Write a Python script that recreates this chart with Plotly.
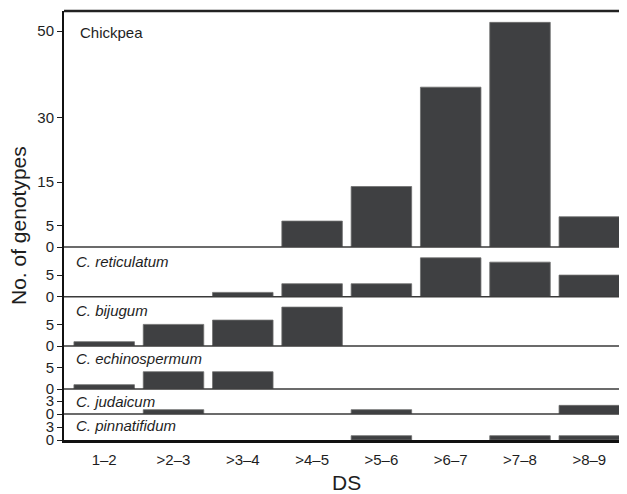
import plotly.graph_objects as go

categories = ["1–2", ">2–3", ">3–4", ">4–5", ">5–6", ">6–7", ">7–8", ">8–9"]
panel_names = ["Chickpea", "C. reticulatum", "C. bijugum", "C. echinospermum", "C. judaicum", "C. pinnatifidum"]
chickpea = [0, 0, 0, 6, 14, 37, 52, 7]
reticulatum = [0, 0, 1, 3, 3, 9, 8, 5]
bijugum = [1, 5, 6, 9, 0, 0, 0, 0]
echinospermum = [1, 4, 4, 0, 0, 0, 0, 0]
judaicum = [0, 1, 0, 0, 1, 0, 0, 2]
pinnatifidum = [0, 0, 0, 0, 1, 0, 1, 1]
series = [chickpea, reticulatum, bijugum, echinospermum, judaicum, pinnatifidum]
tick_sets = [[0, 5, 15, 30, 50], [0, 5], [0, 5], [0, 5], [0, 3], [0, 3]]

W, H = 627, 494
OFF = 8  # page body margin offset
PL, PT, PB, PR = 64, 11, 440, 627  # plot area in page pixels
plot_h = PB - PT
plot_w = PR - PL
# pixel boundaries (top to bottom) of each panel, page pixels
bounds = [11, 247, 296.7, 346, 389, 414, 440]
ppu = 4.32  # pixels per unit
label_y = [32.3, 261.7, 310, 358.7, 401, 425.7]
label_x = [78, 74, 74, 74, 74, 74]

def py(ypx):
    return (PB - ypx) / plot_h

def px(xpx):
    return (xpx - PL) / plot_w

fig = go.Figure()
bar_color = "#3f4042"
font_family = "Liberation Sans, Arial, Helvetica, sans-serif"
txt = "#1e1e1e"

layout = dict(
    width=W, height=H,
    margin=dict(l=PL - OFF, r=W + OFF - PR, t=PT - OFF, b=H + OFF - PB, pad=0, autoexpand=False),
    plot_bgcolor="white", paper_bgcolor="white",
    showlegend=False,
    bargap=0.127,
    font=dict(family=font_family, size=15, color=txt),
)

shapes = []
annotations = []
for i, (name, vals, ticks) in enumerate(zip(panel_names, series, tick_sets)):
    top, bot = bounds[i], bounds[i + 1]
    d0, d1 = py(bot), py(top)
    rng_top = (bot - top) / ppu
    yname = "y" if i == 0 else f"y{i+1}"
    yaxis_key = "yaxis" if i == 0 else f"yaxis{i+1}"
    fig.add_trace(go.Bar(
        x=categories,
        y=[v if v != 0 else None for v in vals],
        xaxis="x", yaxis=yname,
        marker=dict(color=bar_color, line=dict(color="#6e6e6e", width=0.8)),
        hoverinfo="x+y",
    ))
    layout[yaxis_key] = dict(
        domain=[d0, d1], range=[0, rng_top],
        tickvals=ticks, ticktext=[str(t) for t in ticks],
        ticks="outside", ticklen=5, tickwidth=1.3, tickcolor=txt,
        showline=True, linecolor="#111", linewidth=2,
        showgrid=False, zeroline=False, fixedrange=True,
        tickfont=dict(size=15, color=txt),
        anchor="x",
    )
    if i < len(panel_names) - 1:
        shapes.append(dict(type="line", xref="paper", yref="paper",
                           x0=0, x1=1, y0=d0, y1=d0,
                           line=dict(color="#3a3a3a", width=1.6)))
    annotations.append(dict(
        text=f"<i>{name}</i>" if name.startswith("C.") else name,
        xref="paper", yref="paper", x=px(label_x[i]), y=py(label_y[i]),
        xanchor="left", yanchor="middle", showarrow=False,
        font=dict(size=15, color=txt, family=font_family),
    ))

# top border
shapes.append(dict(type="line", xref="paper", yref="paper", x0=0, x1=1, y0=1, y1=1,
                   line=dict(color="#222", width=2.5)))

layout["xaxis"] = dict(
    range=[-0.58, 7.544], domain=[0, 1],
    showline=True, linecolor="#111", linewidth=2.5,
    ticks="outside", ticklen=4, tickcolor="rgba(0,0,0,0)",
    showgrid=False, zeroline=False, fixedrange=True,
    tickfont=dict(size=15, color=txt),
    anchor="y6",
)
annotations.append(dict(
    text="DS", xref="paper", yref="paper", x=px(346), y=py(482),
    xanchor="center", yanchor="middle", showarrow=False,
    font=dict(size=21, color=txt, family=font_family),
))
annotations.append(dict(
    text="No. of genotypes", xref="paper", yref="paper",
    x=px(18), y=py(226), xanchor="center", yanchor="middle",
    textangle=-90, showarrow=False, font=dict(size=21, color=txt, family=font_family),
))
layout["shapes"] = shapes
layout["annotations"] = annotations
fig.update_layout(**layout)
fig.write_html("out.html")
